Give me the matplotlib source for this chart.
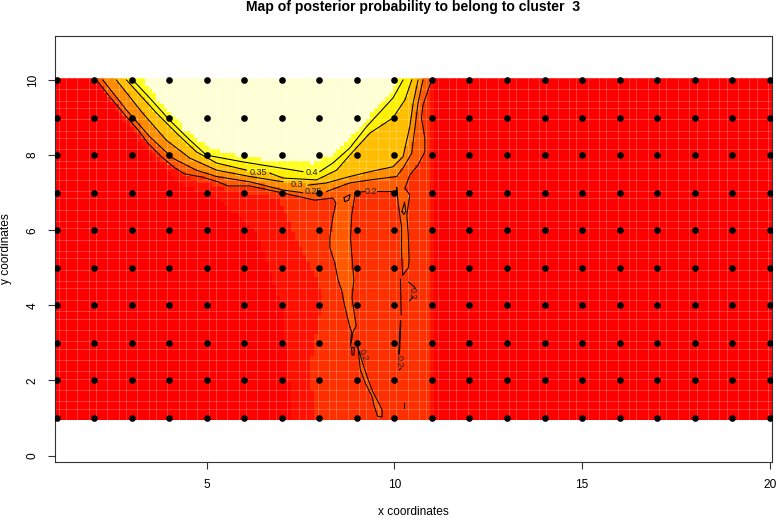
#!/usr/bin/env python
"""
map of posterior probability for one cluster, with the contours on top
"""

import numpy as np
import matplotlib
matplotlib.use('Agg')
import matplotlib.pyplot as plt
from matplotlib.colors import ListedColormap
from matplotlib.path import Path

nan = np.nan

# sampling sites
site_x = list(range(1, 21))
site_y = list(range(1, 11))

# contour lines (left end at the top, right end at the top)
c40_x = [3.03, 3.48, 4.01, 4.55, 4.99, 5.96, 6.95, 7.56, nan, 8.01, 8.36, 8.81, 9.26, 9.96, 10.23]
c40_y = [10, 9.52, 8.93, 8.40, 8.00, 7.82, 7.66, 7.56, nan, 7.56, 7.79, 8.19, 8.76, 9.52, 10]

c35_x = [2.86, 3.66, 4.19, 4.72, 5.26, 6.06, nan, 6.68, 7.03, 7.93, 8.46, 8.81, 9.35, 9.96, 10.28, 10.46]
c35_y = [10, 9.12, 8.59, 8.09, 7.79, 7.60, nan, 7.52, 7.39, 7.34, 7.60, 8.00, 8.59, 8.99, 9.47, 10]

c30_x = [2.59, 3.29, 3.92, 4.55, 5.26, 6.15, 7.03, nan, 7.70, 8.19, 8.81, 9.35, 9.96, 10.23, 10.41, 10.50, 10.63]
c30_y = [10, 9.12, 8.40, 7.92, 7.60, 7.43, 7.29, nan, 7.20, 7.26, 7.43, 7.56, 7.69, 7.96, 8.76, 9.39, 10]

c25_x = [2.23, 2.86, 3.48, 4.09, 4.72, 5.26, 6.15, 7.03, 7.55, nan, 8.19, 8.81, 9.35, 10.06, 10.23, 10.46, 10.55, 10.63, 10.76]
c25_y = [10, 9.20, 8.49, 7.92, 7.60, 7.43, 7.29, 7.07, 7.00, nan, 7.03, 7.26, 7.34, 7.43, 7.66, 8.05, 8.76, 9.39, 10]

c20_x = [2.06, 2.41, 2.86, 3.17, 3.43, 3.79, 4.15, 4.41, 4.86, 5.30, 5.56, 6.15, 7.03, 7.88,
         8.36, 8.44, 8.36, 8.28, 8.28, 8.41, 8.50, 8.59, 8.68, 8.81, 8.86, 8.83,
         8.90, 8.98, 8.87, 8.92, 8.86, 8.83, 8.86, 8.96, 9.20, nan, 9.55, 10.06, 10.06,
         10.10, 10.19, 10.19, 10.22, 10.37, 10.39, 10.37, 10.33, 10.41, 10.28, 10.41, 10.63, 10.81, 10.81, 10.72, 10.76, 10.99]
c20_y = [10, 9.56, 9.02, 8.67, 8.32, 7.96, 7.66, 7.50, 7.42, 7.29, 7.18, 7.18, 6.99, 6.80,
         6.86, 6.72, 6.36, 5.83, 5.53, 5.13, 4.67, 4.41, 3.96, 3.43, 3.30, 2.92,
         3.30, 3.45, 4.20, 4.67, 5.40, 5.80, 6.40, 7.00, 7.03, nan, 7.03, 7.03, 7.15,
         6.70, 6.09, 5.40, 4.80, 5.00, 5.20, 5.87, 6.40, 6.94, 7.12, 7.47, 7.74, 8.09, 8.46, 8.99, 9.33, 10]

# small closed pieces and tails of the 0.2 contour
tail_x = [10.16, 10.18, nan, 10.17, 10.14, 10.12, nan, 10.17, 10.13, nan, 10.11, 10.12, 10.16]
tail_y = [4.70, 3.75, nan, 3.58, 2.80, 2.70, nan, 2.33, 2.28, nan, 2.70, 2.80, 3.58]
isle_x = [9.03, 9.15, 9.30, 9.42, 9.54, 9.67, 9.67, 9.55, 9.46, 9.40, 9.22, 9.09, 9.03]
isle_y = [2.88, 2.47, 2.02, 1.71, 1.48, 1.22, 1.03, 1.05, 1.32, 1.58, 1.94, 2.29, 2.88]
spot1_x = [8.66, 8.82, 8.78, 8.67, 8.66]
spot1_y = [6.87, 6.95, 6.80, 6.76, 6.87]
spot2_x = [10.20, 10.27, 10.30, 10.25, 10.20]
spot2_y = [6.50, 6.75, 6.50, 6.42, 6.50]
spot3_x = [8.86, 8.93, 8.92, 8.87, 8.86]
spot3_y = [2.88, 2.88, 2.68, 2.68, 2.88]
bit_x = [10.25, 10.25]
bit_y = [1.40, 1.27]
arc_x = [10.38, 10.52, 10.56, nan, 10.50, 10.40]
arc_y = [4.62, 4.50, 4.45, nan, 4.22, 4.12]

# outline of the two faint bands below 0.2 and of the palest area
low_x = [1.95, 2.8, 3.6, 4.4, 5.2, 6.3, 7.0, 7.2, 7.3, 11.02, 11.02]
low_y = [10.1, 8.9, 7.9, 7.2, 6.9, 6.0, 4.0, 2.0, 0.9, 0.9, 10.1]
mid_x = [2.02, 2.86, 3.7, 4.6, 5.5, 6.9, 7.3, 7.8, 8.1, 7.85, 7.75, 7.9, 10.95, 10.95]
mid_y = [10.1, 8.95, 7.95, 7.35, 7.1, 6.85, 6.0, 5.0, 4.2, 3.0, 2.2, 0.9, 0.9, 10.1]
pale_x = [3.25, 3.8, 4.4, 5.1, 6.0, 7.0, 7.8, 8.3, 8.8, 9.3, 9.9, 10.15]
pale_y = [10.1, 9.35, 8.70, 8.15, 7.95, 7.85, 7.80, 8.00, 8.45, 9.00, 9.65, 10.1]

band_colors = ['#FF0000', '#FF1000', '#FF3000', '#FF5A00', '#FF8C00',
               '#FFBF00', '#FFF000', '#FFFF20', '#FFFFD5']
band_edges = [(low_x, low_y), (mid_x, mid_y), (c20_x, c20_y), (c25_x, c25_y),
              (c30_x, c30_y), (c35_x, c35_y), (c40_x, c40_y), (pale_x, pale_y)]

title = 'Map of posterior probability to belong to cluster  3'
x_ticks = [5, 10, 15, 20]
y_ticks = [0, 2, 4, 6, 8, 10]
# label text, x, y, rotation
contour_labels = [('0.4', 7.79, 7.53, 0), ('0.35', 6.37, 7.54, 0), ('0.3', 7.39, 7.22, 0),
                  ('0.25', 7.83, 7.03, 0), ('0.2', 9.37, 7.03, 0),
                  ('0.2', 10.12, 2.52, -90), ('0.2', 10.47, 4.33, -90), ('0.2', 9.16, 2.68, -70)]

plt.rcParams['font.family'] = ['Liberation Sans']

W, H = 776, 518
fig = plt.figure(figsize=(W / 100, H / 100), dpi=100)
ax = fig.add_axes([55 / W, 1 - 462.4 / H, 716.5 / W, 426.9 / H])
ax.set_xlim(0.955, 20.048)
ax.set_ylim(-0.181, 11.185)


def closed_path(xs, ys):
    xs = np.array(xs, dtype=float)
    ys = np.array(ys, dtype=float)
    keep = ~np.isnan(xs)
    xs, ys = xs[keep], ys[keep]
    # contours end at the top edge of the map, shut them over it
    xs = np.r_[xs, xs[-1], xs[0]]
    ys = np.r_[ys, 10.2, 10.2]
    return Path(np.c_[xs, ys])


# fill the cells of the map, one band over the other
edge_x = np.linspace(0.95, 20.05, 192)
edge_y = np.linspace(0.95, 10.05, 92)
cx = 0.5 * (edge_x[:-1] + edge_x[1:])
cy = 0.5 * (edge_y[:-1] + edge_y[1:])
gx, gy = np.meshgrid(cx, cy)
pts = np.c_[gx.ravel(), gy.ravel()]
band = np.zeros(gx.shape, dtype=int)
for k, (xs, ys) in enumerate(band_edges):
    band[closed_path(xs, ys).contains_points(pts).reshape(gx.shape)] = k + 1
isle = Path(np.c_[isle_x, isle_y]).contains_points(pts).reshape(gx.shape)
band[isle] = 3

ax.pcolormesh(edge_x, edge_y, band, cmap=ListedColormap(band_colors), vmin=-0.5,
              vmax=len(band_colors) - 0.5, zorder=1)

# thin light seams between some cells of the map, like the device leaves them
seam_x = [e for i, e in enumerate(edge_x) if i % 8 in (1, 3, 6)]
seam_y = [e for i, e in enumerate(edge_y) if i % 8 in (0, 3, 5)]
for s in [ax.vlines(seam_x, 0.95, 10.05, color='white', alpha=0.22, lw=0.72, zorder=2),
          ax.hlines(seam_y, 0.95, 20.05, color='white', alpha=0.22, lw=0.72, zorder=2)]:
    s.set_snap(True)

# contours
lines = [(c40_x, c40_y), (c35_x, c35_y), (c30_x, c30_y), (c25_x, c25_y), (c20_x, c20_y),
         (tail_x, tail_y), (isle_x, isle_y), (spot1_x, spot1_y), (spot2_x, spot2_y),
         (spot3_x, spot3_y), (bit_x, bit_y), (arc_x, arc_y)]
for xs, ys in lines:
    ax.plot(xs, ys, color='black', lw=0.75, zorder=3)

for txt, lx, ly, rot in contour_labels:
    ax.text(lx, ly, txt, fontsize=6.5, ha='center', va='center', rotation=rot,
            color='#222222', zorder=3)

# sites
sx, sy = np.meshgrid(site_x, site_y)
ax.plot(sx.ravel(), sy.ravel(), 'o', color='black', ms=4.8, mew=0, zorder=4)

for side in ax.spines.values():
    side.set_color('#333333')
    side.set_linewidth(0.8)
ax.set_xticks(x_ticks)
ax.set_yticks(y_ticks)
ax.tick_params(axis='both', length=5.2, width=0.8, color='#333333', labelsize=8.6)
ax.tick_params(axis='x', pad=7)
ax.tick_params(axis='y', pad=6.5)
plt.setp(ax.get_yticklabels(), rotation=90, va='center')

fig.text(413 / W, 1 - 6.5 / H, title, fontsize=10.1, fontweight='bold', ha='center', va='center')
fig.text(413 / W, 1 - 512 / H, 'x coordinates', fontsize=8.6, ha='center', va='center')
fig.text(6 / W, 1 - 249 / H, 'y coordinates', fontsize=8.6, rotation=90, ha='center', va='center')

fig.savefig('out.png', dpi=100)
